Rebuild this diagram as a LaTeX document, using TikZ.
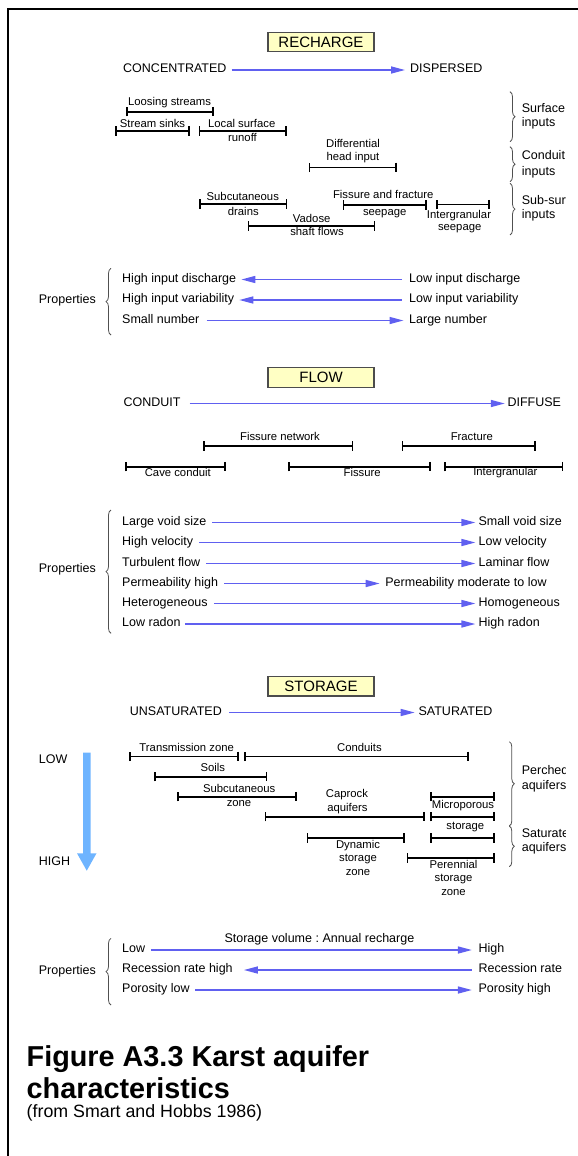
\documentclass[tikz,border=0pt]{standalone}
\usepackage{fontspec}
\setmainfont{Liberation Sans}
\frenchspacing
\usetikzlibrary{arrows.meta,decorations.pathreplacing}
\definecolor{arrblue}{RGB}{96,96,240}
\definecolor{bigblue}{RGB}{110,180,255}
\definecolor{boxfill}{RGB}{255,255,196}
\definecolor{bracegray}{RGB}{80,80,80}
\begin{document}
\begin{tikzpicture}[x=1pt,y=-1pt,
  txt/.style={font=\fontsize{12.5}{14}\selectfont, inner sep=0pt, anchor=mid west},
  sm/.style={font=\fontsize{11.3}{13}\selectfont, inner sep=0pt, anchor=mid},
  ttlbox/.style={draw=black!70, line width=1.2pt, fill=boxfill, minimum width=106pt, minimum height=19.5pt, inner sep=0pt, font=\fontsize{15}{17}\selectfont},
  rarr/.style={draw=arrblue, line width=1.5pt, -{Triangle[length=14pt,width=7pt]}},
  rng/.style={line width=1.6pt, {Bar[width=9.5pt]}-{Bar[width=9.5pt]}},
  brc/.style={draw=bracegray, line width=0.8pt, decorate, decoration={brace, amplitude=5pt}},
  captxt/.style={inner sep=0pt, anchor=base west}
]
\useasboundingbox (0,0) rectangle (578,1156);
\draw[line width=2pt] (578,9) -- (8,9) -- (8,1156);
\begin{scope}
\clip (0,0) rectangle (565,1156);
% ---------------- RECHARGE ----------------
\node[ttlbox] (recharge) at (321,42) {RECHARGE};
\node[txt] (conc) at (123,70) {CONCENTRATED};
\node[txt] (disp) at (410,70) {DISPERSED};
\draw[rarr, shorten <=5pt, shorten >=5pt] (conc.mid east) -- (disp.mid west);

\node[sm] (loos) at (169.5,103) {Loosing streams};
\draw[rng] (126,111.7) -- (214,111.7);
\node[sm] (sinks) at (152.5,125) {Stream sinks};
\draw[rng] (115,131) -- (190,131);
\node[sm] (local1) at (241.7,125) {Local surface};
\node[sm] (local2) at (242.5,139) {runoff};
\draw[rng] (198.7,131) -- (287,131);
\node[sm] (diff1) at (353,145) {Differential};
\node[sm] (diff2) at (353,158) {head input};
\draw[rng] (308.7,167.3) -- (396.7,167.3);
\node[sm] (subc1) at (242.8,198.3) {Subcutaneous};
\node[sm] (subc2) at (243.3,212.7) {drains};
\draw[rng] (199,204) -- (287.3,204);
\node[sm] (fiss1) at (383.3,195.7) {Fissure and fracture};
\node[sm] (fiss2) at (384.7,213.3) {seepage};
\draw[rng] (342.7,205) -- (426.7,205);
\node[sm] (intg1) at (459,215.7) {Intergranular};
\node[sm] (intg2) at (459.7,228.3) {seepage};
\draw[rng] (436,204.5) -- (490,204.5);
\node[sm] (vad1) at (311.7,220) {Vadose};
\node[sm] (vad2) at (317,233.3) {shaft flows};
\draw[rng] (247.7,226) -- (375.3,226);

\draw[brc] (510,91.7) -- (510,141.7);
\draw[brc] (510,146.7) -- (510,181.7);
\draw[brc] (510,183.3) -- (510,235);
\node[txt] (surf1) at (521.7,110) {Surface};
\node[txt] (surf2) at (521.7,124) {inputs};
\node[txt] (cond1) at (521.7,156.7) {Conduit};
\node[txt] (cond2) at (521.7,172.7) {inputs};
\node[txt] (subs1) at (521.7,201.7) {Sub-surface};
\node[txt] (subs2) at (521.7,215.7) {inputs};

\node[txt] (prop1) at (38.7,300.7) {Properties};
\draw[brc] (111,335) -- (111,268.3);
\node[txt] (hid) at (122,279.5) {High input discharge};
\node[txt] (lid) at (409,279.5) {Low input discharge};
\draw[rarr, shorten <=7pt, shorten >=5pt] (lid.mid west) -- (hid.mid east);
\node[txt] (hiv) at (122,300) {High input variability};
\node[txt] (liv) at (409,300) {Low input variability};
\draw[rarr, shorten <=7pt, shorten >=5pt] (liv.mid west) -- (hiv.mid east);
\node[txt] (smn) at (122,320.5) {Small number};
\node[txt] (lgn) at (409,320.5) {Large number};
\draw[rarr, shorten <=7pt, shorten >=5.5pt] (smn.mid east) -- (lgn.mid west);

% ---------------- FLOW ----------------
\node[ttlbox] (flow) at (321,377.5) {FLOW};
\node[txt] (cdt) at (123.3,403.5) {CONDUIT};
\node[txt] (dfs) at (507.3,403.5) {DIFFUSE};
\draw[rarr, shorten <=9pt, shorten >=2.5pt] (cdt.mid east) -- (dfs.mid west);

\node[sm] (fnet) at (280,438.3) {Fissure network};
\draw[rng] (203.3,446) -- (353.3,446);
\node[sm] (frac) at (471.8,438) {Fracture};
\draw[rng] (401.7,446) -- (536,446);
\node[sm] (cave) at (177.8,473.8) {Cave conduit};
\draw[rng] (125,466.7) -- (225.7,466.7);
\node[sm] (fis) at (362.2,473.8) {Fissure};
\draw[rng] (288.3,466.7) -- (431,466.7);
\node[sm] (igr) at (505.3,472.8) {Intergranular};
\draw[rng] (444,466.7) -- (563.3,466.7);

\node[txt] (prop2) at (38.7,570) {Properties};
\draw[brc] (111,633.3) -- (111,510);
\node[txt] (lvs) at (122,522.5) {Large void size};
\node[txt] (svs) at (478.4,522.5) {Small void size};
\draw[rarr, shorten <=6pt, shorten >=3pt] (lvs.mid east) -- (svs.mid west);
\node[txt] (hvel) at (122,542.5) {High velocity};
\node[txt] (lvel) at (478.4,542.5) {Low velocity};
\draw[rarr, shorten <=6pt, shorten >=3pt] (hvel.mid east) -- (lvel.mid west);
\node[txt] (turb) at (122,563.5) {Turbulent flow};
\node[txt] (lam) at (478.4,563.5) {Laminar flow};
\draw[rarr, shorten <=6pt, shorten >=3pt] (turb.mid east) -- (lam.mid west);
\node[txt] (phigh) at (122,583.5) {Permeability high};
\node[txt] (pmod) at (385.2,583.5) {Permeability moderate to low};
\draw[rarr, shorten <=6pt, shorten >=5.5pt] (phigh.mid east) -- (pmod.mid west);
\node[txt] (het) at (122,603.5) {Heterogeneous};
\node[txt] (hom) at (478.4,603.5) {Homogeneous};
\draw[rarr, shorten <=6pt, shorten >=3pt] (het.mid east) -- (hom.mid west);
\node[txt] (lrad) at (122,624) {Low radon};
\node[txt] (hrad) at (478.4,624) {High radon};
\draw[rarr, shorten <=4pt, shorten >=3pt] (lrad.mid east) -- (hrad.mid west);

% ---------------- STORAGE ----------------
\node[ttlbox] (storage) at (321,686.3) {STORAGE};
\node[txt] (unsat) at (129.7,712.5) {UNSATURATED};
\node[txt] (sat) at (418.4,712.5) {SATURATED};
\draw[rarr, shorten <=7.4pt, shorten >=3.7pt] (unsat.mid east) -- (sat.mid west);

\node[txt] (low) at (38.7,760.7) {LOW};
\node[txt] (high) at (38.7,862.5) {HIGH};
\fill[bigblue] (83,752.7) -- (90.5,752.7) -- (90.5,853.3) -- (96.5,853.3) -- (86.75,870.7) -- (77,853.3) -- (83,853.3) -- cycle;

\node[sm] (trans) at (186.7,749.3) {Transmission zone};
\draw[rng] (129,756.3) -- (238.8,756.3);
\node[sm] (cdts) at (359.4,749.3) {Conduits};
\draw[rng] (244.4,756.3) -- (468.5,756.3);
\node[sm] (soils) at (212.9,769.3) {Soils};
\draw[rng] (154,776.7) -- (267.2,776.7);
\node[sm] (sz1) at (239.2,790) {Subcutaneous};
\node[sm] (sz2) at (239,804) {zone};
\draw[rng] (176.9,796.7) -- (296.7,796.7);
\node[sm] (cap1) at (347,795) {Caprock};
\node[sm] (cap2) at (347.4,809.3) {aquifers};
\draw[rng] (264.7,816.7) -- (424.8,816.7);
\node[sm] (mic1) at (463,806.3) {Microporous};
\node[sm] (mic2) at (465.3,827.3) {storage};
\draw[rng] (430.3,796.7) -- (495,796.7);
\draw[rng] (430.3,816.7) -- (495,816.7);
\draw[rng] (430.3,838) -- (495,838);
\node[sm] (dyn1) at (358,846.3) {Dynamic};
\node[sm] (dyn2) at (358,859.3) {storage};
\node[sm] (dyn3) at (358,872.7) {zone};
\draw[rng] (306.7,838) -- (405,838);
\node[sm] (per1) at (453.5,866) {Perennial};
\node[sm] (per2) at (453.5,879.3) {storage};
\node[sm] (per3) at (453.5,893.3) {zone};
\draw[rng] (406.7,857.8) -- (495,857.8);

\draw[brc] (509.3,741.7) -- (509.3,826);
\draw[brc] (509.3,826) -- (509.3,866.7);
\node[txt] (pa1) at (521.6,772) {Perched};
\node[txt] (pa2) at (521.6,786.7) {aquifers};
\node[txt] (sa1) at (521.6,834.5) {Saturated};
\node[txt] (sa2) at (521.6,849) {aquifers};

\node[txt] (prop3) at (38.7,971.7) {Properties};
\draw[brc] (111,1005) -- (111,938.3);
\node[txt, anchor=mid] (svar) at (319.4,940) {Storage volume : Annual recharge};
\node[txt] (slow) at (122,950) {Low};
\node[txt] (shigh) at (478.4,950) {High};
\draw[rarr, shorten <=5.5pt, shorten >=6.5pt] (slow.mid east) -- (shigh.mid west);
\node[txt] (rhigh) at (122,970) {Recession rate high};
\node[txt] (rlow) at (478.4,970) {Recession rate};
\draw[rarr, shorten <=6.5pt, shorten >=11pt] (rlow.mid west) -- (rhigh.mid east);
\node[txt] (plow) at (122,990) {Porosity low};
\node[txt] (phi) at (478.4,990) {Porosity high};
\draw[rarr, shorten <=5.5pt, shorten >=6.5pt] (plow.mid east) -- (phi.mid west);

% ---------------- caption ----------------
\node[captxt, font=\bfseries\fontsize{28.8}{33}\selectfont] (fig1) at (26.5,1066) {Figure A3.3 Karst aquifer};
\node[captxt, font=\bfseries\fontsize{28.8}{33}\selectfont] (fig2) at (26.5,1098.5) {characteristics};
\node[captxt, font=\fontsize{17.8}{20}\selectfont] (fig3) at (26.5,1117.5) {(from Smart and Hobbs 1986)};
\end{scope}
\end{tikzpicture}
\end{document}
